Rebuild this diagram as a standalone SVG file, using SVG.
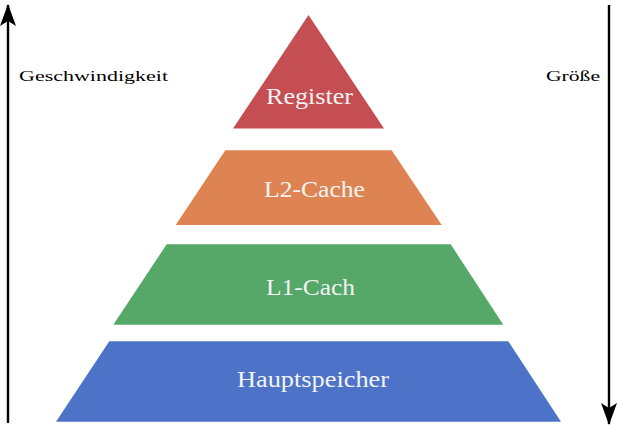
<svg xmlns="http://www.w3.org/2000/svg" width="618" height="428" viewBox="0 0 618 428">
  <style>
    .lbl { font-family: "Liberation Serif", "Times New Roman", serif; font-size: 24px; fill: #f2f2f2; text-anchor: middle; }
    .side { font-family: "Liberation Serif", "Times New Roman", serif; font-size: 14px; fill: #000000; }
    .axis { stroke: #000000; stroke-width: 2.4; fill: none; }
  </style>
  <defs>
    <marker id="head" markerUnits="userSpaceOnUse" viewBox="0 -8 22 16" refX="21" refY="0" markerWidth="22" markerHeight="16" orient="auto" overflow="visible">
      <path d="M0,-8 L22,0 L0,8 L5,0 Z" fill="#000000"/>
    </marker>
  </defs>
  <rect width="618" height="428" fill="#ffffff"/>
  <g id="connectors">
    <line class="axis" x1="8" y1="423" x2="8" y2="5" marker-end="url(#head)"/>
    <line class="axis" x1="609" y1="5" x2="609" y2="424" marker-end="url(#head)"/>
  </g>
  <g id="register">
    <polygon points="308.5,15 233,128.5 384,128.5" fill="#C44E52"/>
    <text class="lbl" x="309.5" y="104" textLength="87" lengthAdjust="spacingAndGlyphs">Register</text>
  </g>
  <g id="l2cache">
    <polygon points="225.3,150.3 391.7,150.3 441.7,225 175.7,225" fill="#DD8452"/>
    <text class="lbl" x="314.5" y="197" textLength="101" lengthAdjust="spacingAndGlyphs">L2-Cache</text>
  </g>
  <g id="l1cache">
    <polygon points="166.7,244.3 450.7,244.3 503.3,324.7 113.3,324.7" fill="#55A868"/>
    <text class="lbl" x="310.5" y="295" textLength="89" lengthAdjust="spacingAndGlyphs">L1-Cach</text>
  </g>
  <g id="hauptspeicher">
    <polygon points="109.3,341.3 508.3,341.3 561,421.7 56,421.7" fill="#4D73C8"/>
    <text class="lbl" x="313" y="387" textLength="152" lengthAdjust="spacingAndGlyphs">Hauptspeicher</text>
  </g>
  <g id="labels">
    <text class="side" x="19" y="81" textLength="149" lengthAdjust="spacingAndGlyphs">Geschwindigkeit</text>
    <text class="side" x="546" y="81" textLength="54" lengthAdjust="spacingAndGlyphs">Größe</text>
  </g>
</svg>
